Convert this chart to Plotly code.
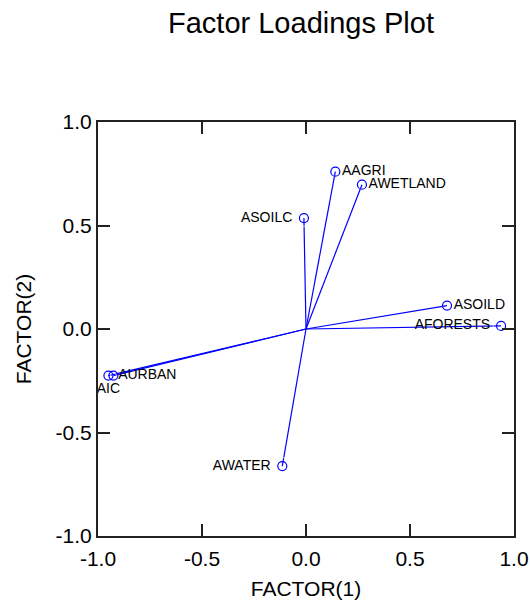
import plotly.graph_objects as go

# Factor loadings (FACTOR(1), FACTOR(2))
variables = ["AAGRI", "AWETLAND", "ASOILC", "ASOILD", "AFORESTS", "AURBAN", "AIC", "AWATER"]
factor1 = [0.141, 0.269, -0.010, 0.678, 0.938, -0.926, -0.950, -0.114]
factor2 = [0.760, 0.697, 0.536, 0.113, 0.015, -0.225, -0.225, -0.662]
label_pos = ["middle right", "middle right", "middle left", "middle right",
             "middle left", "middle right", "bottom center", "middle left"]
label_pad = [9, 9, 17, 9, 16, 6, 9, 17]   # spacing of each label from its point (px)

tick_vals = [-1.0, -0.5, 0.0, 0.5, 1.0]
tick_text = ["-1.0", "-0.5", "0.0", "0.5", "1.0"]

BLUE = "#0000ff"
FONT = "Liberation Sans, Arial, Helvetica, sans-serif"

# lines from origin to each loading
lx, ly = [], []
for x, y in zip(factor1, factor2):
    lx += [0, x, None]
    ly += [0, y, None]

fig = go.Figure()
fig.add_trace(go.Scatter(x=lx, y=ly, mode="lines",
                         line=dict(color=BLUE, width=1.2),
                         hoverinfo="skip", showlegend=False, cliponaxis=False))
fig.add_trace(go.Scatter(x=factor1, y=factor2, mode="markers+text",
                         text=variables, textposition=label_pos,
                         textfont=dict(family=FONT, size=14, color="#000000"),
                         marker=dict(size=label_pad, color="rgba(0,0,0,0)"),
                         hoverinfo="skip", showlegend=False, cliponaxis=False))
fig.add_trace(go.Scatter(x=factor1, y=factor2, mode="markers",
                         text=variables,
                         marker=dict(symbol="circle-open", size=9,
                                     color=BLUE, line=dict(width=1.2, color=BLUE)),
                         showlegend=False, cliponaxis=False))

axis_common = dict(range=[-1, 1], tickvals=tick_vals, ticktext=tick_text,
                   showgrid=False, zeroline=False, showline=True, mirror="allticks",
                   linecolor="#222222", linewidth=2, ticks="inside", ticklen=12,
                   tickwidth=1.5, tickcolor="#222222", automargin=False,
                   tickfont=dict(family=FONT, size=21, color="#000000"))

fig.update_layout(
    width=530, height=601,
    margin=dict(l=98, r=16, t=122, b=65, autoexpand=False),
    paper_bgcolor="white", plot_bgcolor="white",
    title=dict(text="Factor Loadings Plot", x=301 / 530, xref="container",
               xanchor="center", y=1 - 23 / 601, yanchor="middle",
               automargin=False,
               font=dict(family=FONT, size=29, color="#000000")),
    xaxis=dict(**axis_common, ticklabelstandoff=3,
               title=dict(text="FACTOR(1)", standoff=12,
                          font=dict(family=FONT, size=21, color="#000000"))),
    yaxis=dict(**axis_common,
               title=dict(text="FACTOR(2)", standoff=18,
                          font=dict(family=FONT, size=21, color="#000000"))),
)

fig.write_html("out.html", config={"displayModeBar": False},
               post_script="document.body.style.margin='0';"
                           "document.body.style.overflow='hidden';")
